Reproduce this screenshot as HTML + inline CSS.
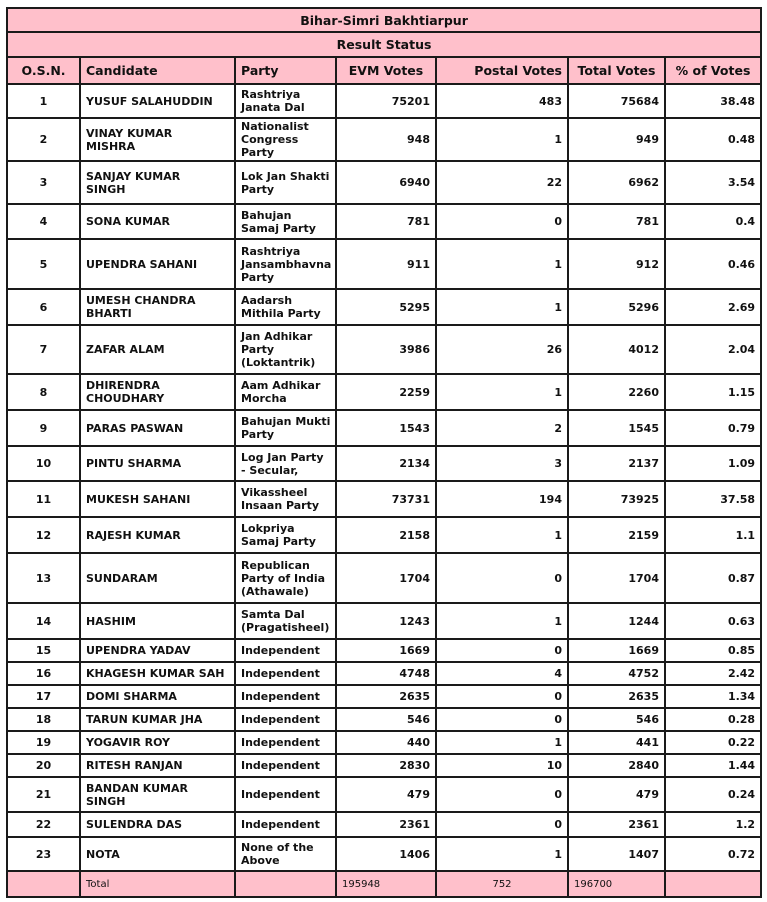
<!DOCTYPE html>
<html><head><meta charset="utf-8"><style>
body{margin:0;background:#fff;}
table{position:absolute;left:6px;top:7px;border-collapse:collapse;table-layout:fixed;width:754px;font-family:"DejaVu Sans","Liberation Sans",sans-serif;font-size:11px;font-weight:bold;color:#111;}
td{border:2px solid #1a1a1a;padding:0 5px;overflow:hidden;line-height:13px;white-space:nowrap;}
.h td{background:#ffc0cb;font-size:12.5px;}
.c{text-align:center}.r{text-align:right}
tr.t td{background:#ffc0cb;font-weight:normal;font-size:10px;}
</style></head><body>
<table>
<colgroup><col style="width:73px"><col style="width:155px"><col style="width:101px"><col style="width:100px"><col style="width:132px"><col style="width:97px"><col style="width:96px"></colgroup>
<tr class="h" style="height:24px"><td colspan="7" class="c">Bihar-Simri Bakhtiarpur</td></tr>
<tr class="h" style="height:25px"><td colspan="7" class="c">Result Status</td></tr>
<tr class="h" style="height:27px"><td class="c">O.S.N.</td><td>Candidate</td><td>Party</td><td class="c">EVM Votes</td><td class="r">Postal Votes</td><td class="c">Total Votes</td><td class="c">% of Votes</td></tr>
<tr style="height:34px"><td class="c">1</td><td>YUSUF SALAHUDDIN</td><td>Rashtriya<br>Janata Dal</td><td class="r">75201</td><td class="r">483</td><td class="r">75684</td><td class="r">38.48</td></tr>
<tr style="height:43px"><td class="c">2</td><td>VINAY KUMAR<br>MISHRA</td><td>Nationalist<br>Congress<br>Party</td><td class="r">948</td><td class="r">1</td><td class="r">949</td><td class="r">0.48</td></tr>
<tr style="height:43px"><td class="c">3</td><td>SANJAY KUMAR<br>SINGH</td><td>Lok Jan Shakti<br>Party</td><td class="r">6940</td><td class="r">22</td><td class="r">6962</td><td class="r">3.54</td></tr>
<tr style="height:35px"><td class="c">4</td><td>SONA KUMAR</td><td>Bahujan<br>Samaj Party</td><td class="r">781</td><td class="r">0</td><td class="r">781</td><td class="r">0.4</td></tr>
<tr style="height:50px"><td class="c">5</td><td>UPENDRA SAHANI</td><td>Rashtriya<br>Jansambhavna<br>Party</td><td class="r">911</td><td class="r">1</td><td class="r">912</td><td class="r">0.46</td></tr>
<tr style="height:36px"><td class="c">6</td><td>UMESH CHANDRA<br>BHARTI</td><td>Aadarsh<br>Mithila Party</td><td class="r">5295</td><td class="r">1</td><td class="r">5296</td><td class="r">2.69</td></tr>
<tr style="height:49px"><td class="c">7</td><td>ZAFAR ALAM</td><td>Jan Adhikar<br>Party<br>(Loktantrik)</td><td class="r">3986</td><td class="r">26</td><td class="r">4012</td><td class="r">2.04</td></tr>
<tr style="height:36px"><td class="c">8</td><td>DHIRENDRA<br>CHOUDHARY</td><td>Aam Adhikar<br>Morcha</td><td class="r">2259</td><td class="r">1</td><td class="r">2260</td><td class="r">1.15</td></tr>
<tr style="height:36px"><td class="c">9</td><td>PARAS PASWAN</td><td>Bahujan Mukti<br>Party</td><td class="r">1543</td><td class="r">2</td><td class="r">1545</td><td class="r">0.79</td></tr>
<tr style="height:35px"><td class="c">10</td><td>PINTU SHARMA</td><td>Log Jan Party<br>- Secular,</td><td class="r">2134</td><td class="r">3</td><td class="r">2137</td><td class="r">1.09</td></tr>
<tr style="height:36px"><td class="c">11</td><td>MUKESH SAHANI</td><td>Vikassheel<br>Insaan Party</td><td class="r">73731</td><td class="r">194</td><td class="r">73925</td><td class="r">37.58</td></tr>
<tr style="height:36px"><td class="c">12</td><td>RAJESH KUMAR</td><td>Lokpriya<br>Samaj Party</td><td class="r">2158</td><td class="r">1</td><td class="r">2159</td><td class="r">1.1</td></tr>
<tr style="height:50px"><td class="c">13</td><td>SUNDARAM</td><td>Republican<br>Party of India<br>(Athawale)</td><td class="r">1704</td><td class="r">0</td><td class="r">1704</td><td class="r">0.87</td></tr>
<tr style="height:36px"><td class="c">14</td><td>HASHIM</td><td>Samta Dal<br>(Pragatisheel)</td><td class="r">1243</td><td class="r">1</td><td class="r">1244</td><td class="r">0.63</td></tr>
<tr style="height:23px"><td class="c">15</td><td>UPENDRA YADAV</td><td>Independent</td><td class="r">1669</td><td class="r">0</td><td class="r">1669</td><td class="r">0.85</td></tr>
<tr style="height:23px"><td class="c">16</td><td>KHAGESH KUMAR SAH</td><td>Independent</td><td class="r">4748</td><td class="r">4</td><td class="r">4752</td><td class="r">2.42</td></tr>
<tr style="height:23px"><td class="c">17</td><td>DOMI SHARMA</td><td>Independent</td><td class="r">2635</td><td class="r">0</td><td class="r">2635</td><td class="r">1.34</td></tr>
<tr style="height:23px"><td class="c">18</td><td>TARUN KUMAR JHA</td><td>Independent</td><td class="r">546</td><td class="r">0</td><td class="r">546</td><td class="r">0.28</td></tr>
<tr style="height:23px"><td class="c">19</td><td>YOGAVIR ROY</td><td>Independent</td><td class="r">440</td><td class="r">1</td><td class="r">441</td><td class="r">0.22</td></tr>
<tr style="height:23px"><td class="c">20</td><td>RITESH RANJAN</td><td>Independent</td><td class="r">2830</td><td class="r">10</td><td class="r">2840</td><td class="r">1.44</td></tr>
<tr style="height:35px"><td class="c">21</td><td>BANDAN KUMAR<br>SINGH</td><td>Independent</td><td class="r">479</td><td class="r">0</td><td class="r">479</td><td class="r">0.24</td></tr>
<tr style="height:25px"><td class="c">22</td><td>SULENDRA DAS</td><td>Independent</td><td class="r">2361</td><td class="r">0</td><td class="r">2361</td><td class="r">1.2</td></tr>
<tr style="height:34px"><td class="c">23</td><td>NOTA</td><td>None of the<br>Above</td><td class="r">1406</td><td class="r">1</td><td class="r">1407</td><td class="r">0.72</td></tr>
<tr class="t" style="height:26px"><td></td><td>Total</td><td></td><td>195948</td><td class="c">752</td><td>196700</td><td></td></tr>
</table>
</body></html>
